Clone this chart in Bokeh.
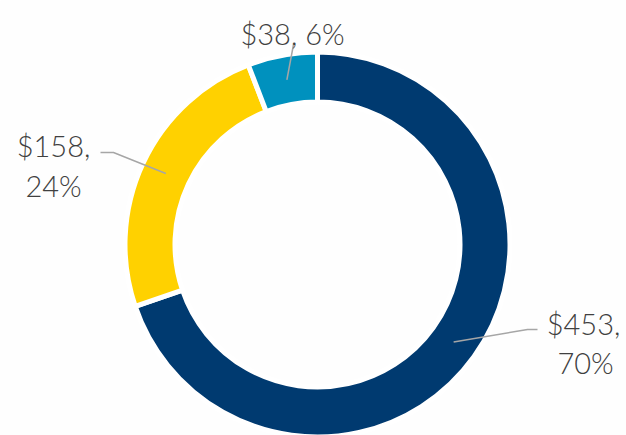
import math
from bokeh.plotting import figure
from bokeh.models import Range1d, ColumnDataSource
from bokeh.core.properties import value
from bokeh.embed import file_html
from bokeh.resources import INLINE

# ---- data ----
amounts = [453, 158, 38]
percents = [70, 24, 6]
colors = ["#003A70", "#FFD100", "#0091BE"]

# ---- layout (pixel coords of the picture) ----
W, H = 626, 435


def fx(px):
    return px


def fy(py):
    return H - py


GAP = 5
cx, cy = fx(317), fy(244)
R_OUT, R_IN = 190 + GAP / 2, 145 - GAP / 2
R_MID = (R_OUT + R_IN) / 2

total = sum(amounts)
starts, ends, mids = [], [], []
a = math.pi / 2
for v in amounts:
    sweep = 2 * math.pi * v / total
    starts.append(a)
    ends.append(a - sweep)
    mids.append(a - sweep / 2)
    a -= sweep

p = figure(width=W, height=H, output_backend="svg", toolbar_location=None,
           x_range=Range1d(0, W), y_range=Range1d(0, H), min_border=0)
p.axis.visible = False
p.grid.visible = False
p.outline_line_color = None
p.background_fill_color = "#FEFEFE"
p.border_fill_color = "#FEFEFE"

src = ColumnDataSource(dict(x=[cx] * len(amounts), y=[cy] * len(amounts),
                            start=starts, end=ends, color=colors))
p.annular_wedge(x="x", y="y", inner_radius=R_IN, outer_radius=R_OUT,
                start_angle="start", end_angle="end", direction="clock",
                fill_color="color", line_color="#FFFFFF", line_width=GAP,
                source=src)

# leader lines: from middle of ring at slice mid-angle to elbow points
elbows = [
    [(527, 329), (537, 329)],
    [(113, 152), (100, 152)],
    [(293, 44)],
]
label_lines = [
    [(f"${amounts[0]},", 583, 323), (f"{percents[0]}%", 585, 362)],
    [(f"${amounts[1]},", 53, 145), (f"{percents[1]}%", 53, 185)],
    [(f"${amounts[2]}, {percents[2]}%", 292, 33)],
]

for m, el in zip(mids, elbows):
    xs = [cx + R_MID * math.cos(m)] + [fx(e[0]) for e in el]
    ys = [cy + R_MID * math.sin(m)] + [fy(e[1]) for e in el]
    p.line(xs, ys, line_color="#A6A6A6", line_width=1.5)

tx, ty, tt = [], [], []
for lines in label_lines:
    for t, x, y in lines:
        tt.append(t)
        tx.append(fx(x))
        ty.append(fy(y))
p.text(x=tx, y=ty, text=tt, text_font=value("Lato Light, Lato"),
       text_font_size="29px", text_color="#404040", text_align="center",
       text_baseline="alphabetic")

open("out.html", "w").write(file_html(p, INLINE))
